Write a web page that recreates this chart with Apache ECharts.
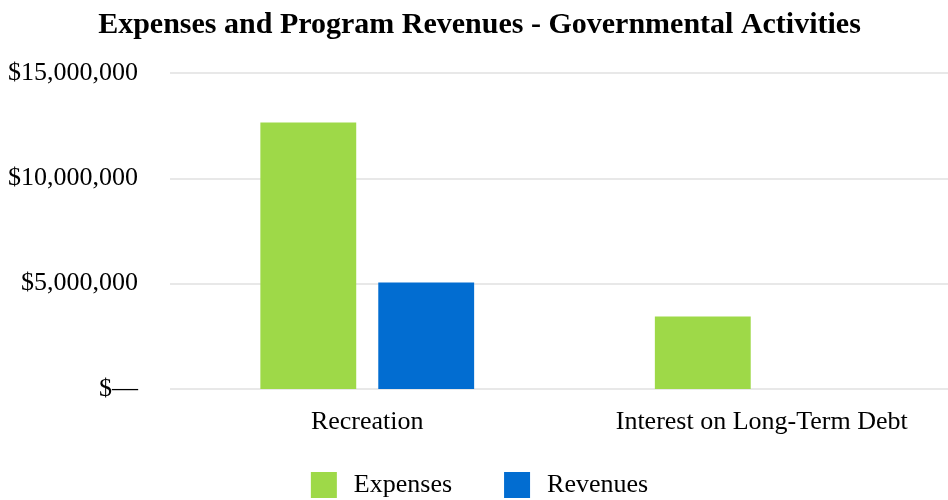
<!DOCTYPE html>
<html><head><meta charset="utf-8">
<script src="https://cdn.jsdelivr.net/npm/echarts@6/dist/echarts.min.js"></script>
<style>html,body{margin:0;padding:0;background:#fff;overflow:hidden}#c{width:959px;height:500px}</style>
</head><body><div id="c"></div>
<script>
var title = 'Expenses and Program Revenues - Governmental Activities';
var categories = ['Recreation', 'Interest on Long-Term Debt'];
var expenses = [12650000, 3440000];
var revenues = [5050000, 0];
var seriesNames = ['Expenses', 'Revenues'];
var yTicks = [0, 5000000, 10000000, 15000000];

var font = '"Liberation Serif", "Times New Roman", serif';
var chart = echarts.init(document.getElementById('c'), null, {renderer: 'canvas'});
chart.setOption({
  animation: false,
  title: {text: title, left: 'center', top: 5,
    textStyle: {fontFamily: font, fontSize: 30, fontWeight: 'bold', color: '#000'}},
  legend: {data: seriesNames, top: 467, left: 'center', itemWidth: 26, itemHeight: 26, itemGap: 52,
    icon: 'rect', textStyle: {fontFamily: font, fontSize: 26, color: '#000', padding: [0, 0, 0, 12]}},
  grid: {left: 170, right: 0, top: 73, bottom: 111, containLabel: false},
  xAxis: {type: 'category', data: categories,
    axisLine: {show: false}, axisTick: {show: false},
    axisLabel: {fontFamily: font, fontSize: 26, color: '#000', margin: 20}},
  yAxis: {type: 'value', min: yTicks[0], max: yTicks[yTicks.length - 1], interval: 5000000,
    axisLine: {show: false}, axisTick: {show: false},
    splitLine: {lineStyle: {color: '#e0e0e0', width: 1.5}},
    axisLabel: {fontFamily: font, fontSize: 26, color: '#000', margin: 32,
      formatter: function (v) { return v === 0 ? '$\u2014' : '$' + v.toLocaleString('en-US'); }}},
  series: [
    {name: seriesNames[0], type: 'bar', data: expenses, barWidth: '24.3%', barGap: '23%',
      itemStyle: {color: '#9ED948'}},
    {name: seriesNames[1], type: 'bar', data: revenues, barWidth: '24.3%',
      itemStyle: {color: '#026DD1'}}
  ]
});
</script></body></html>
